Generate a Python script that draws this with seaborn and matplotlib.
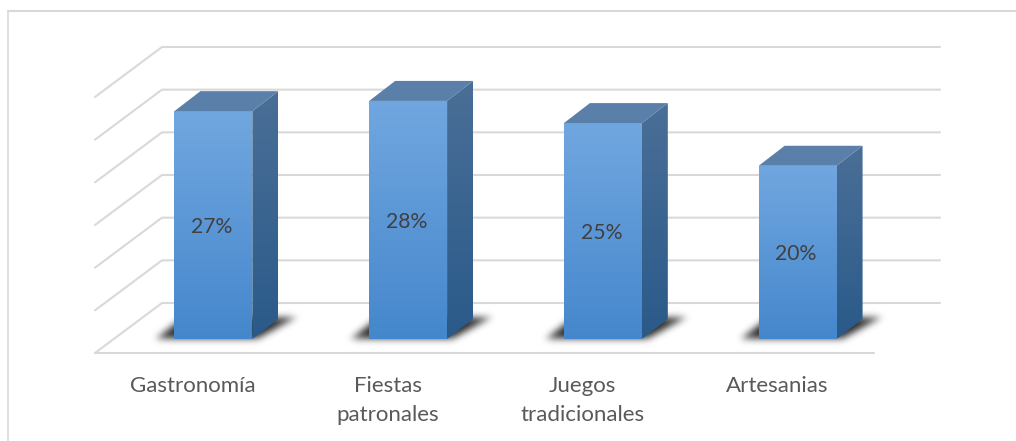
import numpy as np
import pandas as pd
import seaborn as sns
import matplotlib
matplotlib.use('Agg')
import matplotlib.pyplot as plt
from matplotlib.colors import LinearSegmentedColormap
from matplotlib.lines import Line2D
from matplotlib.path import Path
from matplotlib.patches import Polygon
from matplotlib.transforms import Affine2D

categorias = ['Gastronomía', 'Fiestas\npatronales', 'Juegos\ntradicionales', 'Artesanias']
valores = [26.7, 27.9, 25.3, 20.3]
etiquetas = ['27%', '28%', '25%', '20%']
ticks_y = [0, 5, 10, 15, 20, 25, 30]

sns.set_theme(style='white')
plt.rcParams['font.family'] = ['Lato', 'DejaVu Sans']

W, H = 1016, 441
fig = plt.figure(figsize=(W / 100, H / 100), dpi=100)
ax = fig.add_axes([116 / W, (H - 339) / H, 779 / W, 256 / H])

df = pd.DataFrame({'categoria': categorias, 'valor': valores})
sns.barplot(data=df, x='categoria', y='valor', width=0.4, color='#4F90D2', linewidth=0, ax=ax, zorder=3)
ax.set_xlim(-0.5, 3.5)
ax.set_ylim(0, 30)

# pixeles a unidades de datos, para la falsa perspectiva
px = 4 / 779
py = 30 / 256
grid_c = '#D9D9D9'

# paredes y suelo
for t in ticks_y:
    xs = [-0.5 - 21 * px, -0.5 + 46 * px, 3.5 + 45 * px]
    ys = [t - 14 * py, t + 36 * py, t + 36 * py]
    ax.plot(xs, ys, color=grid_c, lw=1.5, zorder=1, clip_on=False)
ax.plot([-0.5 - 21 * px, 3.5 - 21 * px], [-14 * py, -14 * py], color=grid_c, lw=1.5, zorder=1, clip_on=False)


def degradado(poly, c1, c2, z):
    # rellena el poligono con un degradado vertical
    cmap = LinearSegmentedColormap.from_list('g', [c1, c2])
    xs, ys = poly[:, 0], poly[:, 1]
    im = ax.imshow(np.linspace(0, 1, 256).reshape(-1, 1), cmap=cmap, aspect='auto',
                   extent=[xs.min(), xs.max(), ys.min(), ys.max()], origin='upper', zorder=z)
    im.set_clip_path(Polygon(poly, closed=True, transform=ax.transData))
    im.set_clip_box(fig.bbox)


def sombra(x0, x1):
    # sombra difuminada en el suelo, mascara + blur gaussiano
    forma = Path([(x0 - 20 * px, -0.5 * py), (x1 + 6 * px, -0.5 * py),
                  (x1 + 46 * px, 22 * py), (x0 + 8 * px, 22 * py)])
    gx = x0 + np.arange(-50, (x1 - x0) / px + 85) * px
    gy = np.arange(-30, 55) * py
    mx, my = np.meshgrid(gx, gy)
    mask = forma.contains_points(np.c_[mx.ravel(), my.ravel()]).reshape(mx.shape).astype(float)
    k = np.exp(-0.5 * (np.arange(-15, 16) / 4.0) ** 2)
    k = k / k.sum()
    mask = np.apply_along_axis(np.convolve, 0, mask, k, mode='same')
    mask = np.apply_along_axis(np.convolve, 1, mask, k, mode='same')
    rgba = np.zeros(mask.shape + (4,))
    rgba[..., 3] = np.clip(mask ** 1.3 * 0.85, 0, 0.8)
    im = ax.imshow(rgba, origin='lower', aspect='auto', zorder=2,
                   extent=[gx[0], gx[-1], gy[0], gy[-1]])
    im.set_clip_box(fig.bbox)


dx, dy = 26 * px, 20 * py
for bar in list(ax.patches):
    x0, x1 = bar.get_x(), bar.get_x() + bar.get_width()
    h = bar.get_height()

    sombra(x0, x1)

    frente = np.array([(x0, 0), (x1, 0), (x1, h), (x0, h)])
    lado = np.array([(x1, 0), (x1 + dx, dy), (x1 + dx, h + dy), (x1, h)])
    tapa = np.array([(x0, h), (x1, h), (x1 + dx, h + dy), (x0 + dx, h + dy)])
    degradado(frente, '#71A7E0', '#4587CC', 4)
    degradado(lado, '#4A6F97', '#2A5A8A', 4)
    ax.add_patch(Polygon(tapa, closed=True, fc='#5A7FA9', ec='none', zorder=4, clip_on=False))

ax.set_xlim(-0.5, 3.5)
ax.set_ylim(0, 30)

for c in ax.containers:
    ax.bar_label(c, labels=etiquetas, label_type='center', fontsize=15.2, color='#404040', zorder=6)
for t in ax.texts:
    t.set_zorder(6)
    t.xyann = (-1.1, -1.5)

ax.set_xlabel('')
ax.set_ylabel('')
ax.set_yticks([])
ax.set_xticks(range(len(categorias)))
ax.set_xticklabels(categorias, fontsize=16, color='#595959', linespacing=1.56)
ax.tick_params(axis='x', length=0, pad=26.5)
for lab in ax.get_xticklabels():
    lab.set_transform(lab.get_transform() + Affine2D().translate(-20.5, 0))
sns.despine(ax=ax, left=True, bottom=True)

# borde del marco
fig.add_artist(Line2D([8 / W, 1], [1 - 11 / H, 1 - 11 / H], color=grid_c, lw=1.5))
fig.add_artist(Line2D([8 / W, 8 / W], [0, 1 - 11 / H], color=grid_c, lw=1.2))

fig.savefig('out.png', dpi=100)
